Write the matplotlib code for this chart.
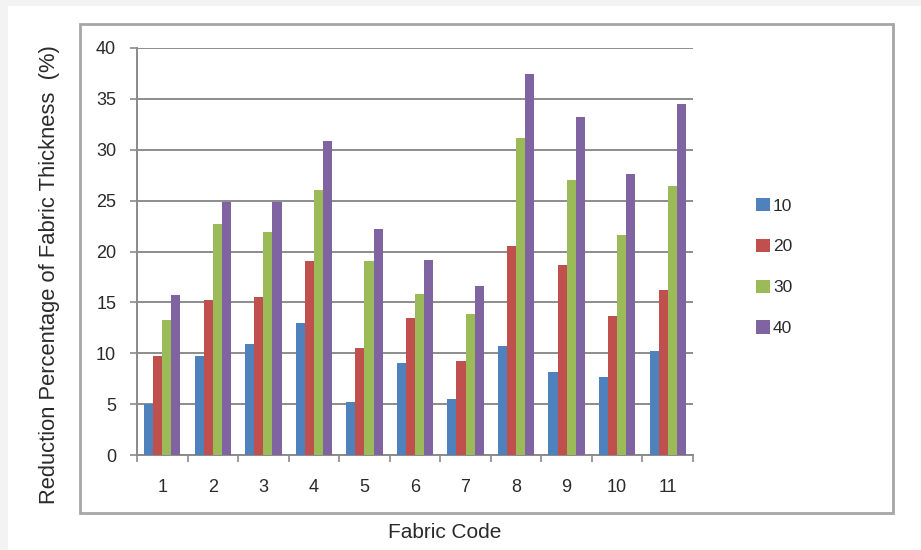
import matplotlib
matplotlib.use("Agg")
import matplotlib.pyplot as plt
from matplotlib.patches import Rectangle, Patch
import numpy as np

categories = ["1", "2", "3", "4", "5", "6", "7", "8", "9", "10", "11"]
series_names = ["10", "20", "30", "40"]
s10 = [5.0, 9.7, 10.9, 13.0, 5.2, 9.0, 5.5, 10.7, 8.2, 7.7, 10.2]
s20 = [9.7, 15.2, 15.5, 19.1, 10.5, 13.5, 9.2, 20.5, 18.7, 13.7, 16.2]
s30 = [13.3, 22.7, 21.9, 26.0, 19.1, 15.8, 13.9, 31.2, 27.0, 21.6, 26.4]
s40 = [15.7, 24.9, 24.9, 30.9, 22.2, 19.2, 16.6, 37.4, 33.2, 27.6, 34.5]
colors = ["#4F81BD", "#C0504D", "#9BBB59", "#8064A2"]

W, H = 921, 550
fig = plt.figure(figsize=(W / 100, H / 100), dpi=100)
fig.patch.set_facecolor("white")

# light gray frame top/left (screenshot edge)
fig.patches.append(Rectangle((0, 1 - 6 / H), 1, 6 / H, transform=fig.transFigure,
                             facecolor="#f3f3f3", edgecolor="none", zorder=0))
fig.patches.append(Rectangle((0, 0), 8 / W, 1, transform=fig.transFigure,
                             facecolor="#f3f3f3", edgecolor="none", zorder=0))
# chart area box
fig.patches.append(Rectangle((80 / W, 1 - 513 / H), (893 - 80) / W, (513 - 24) / H,
                             transform=fig.transFigure, facecolor="white",
                             edgecolor="#a6a6a6", linewidth=2, zorder=1))

ax = fig.add_axes([137 / W, 1 - 455 / H, (693 - 137) / W, (455 - 48) / H])
ax.set_facecolor("none")
ax.set_zorder(2)

x = np.arange(len(categories))
w = 0.18
data = [s10, s20, s30, s40]
for i, (vals, c) in enumerate(zip(data, colors)):
    ax.bar(x + (i - 1.5) * w, vals, width=w, color=c, edgecolor="none",
           label=series_names[i], zorder=3)

ax.set_xlim(-0.5, len(categories) - 0.5)
ax.set_ylim(0, 40)
ax.set_yticks(np.arange(0, 41, 5))
ax.yaxis.grid(True, color="#8c8c8c", linewidth=1.4, zorder=0)
ax.set_axisbelow(True)

for s in ["top", "right"]:
    ax.spines[s].set_visible(False)
for s in ["left", "bottom"]:
    ax.spines[s].set_color("#8a8a8a")
    ax.spines[s].set_linewidth(1.4)

ax.set_xticks(x)
ax.set_xticklabels(categories)
ax.set_xticks(np.arange(-0.5, len(categories), 1), minor=True)
ax.tick_params(axis="x", which="major", length=0, pad=17, labelsize=13,
               labelcolor="#2a2a2a")
ax.tick_params(axis="x", which="minor", length=5, width=1.2, color="#8a8a8a")
ax.tick_params(axis="y", length=5, width=1.2, color="#8a8a8a", pad=10,
               labelsize=13, labelcolor="#2a2a2a")
for lab in ax.get_xticklabels() + ax.get_yticklabels():
    lab.set_fontfamily(["Liberation Sans", "DejaVu Sans"])

fig.text(445 / W, 1 - 533 / H, "Fabric Code", ha="center", va="center",
         fontsize=15, color="#2a2a2a",
         family=["Liberation Sans", "DejaVu Sans"])
fig.text(50 / W, 1 - 275 / H, "Reduction Percentage of Fabric Thickness  (%)",
         rotation=90, ha="center", va="center", fontsize=15.8, color="#2a2a2a",
         family=["Liberation Sans", "DejaVu Sans"])

handles = [Patch(facecolor=c, edgecolor="none") for c in colors]
fig.legend(handles, series_names, loc="center left",
           bbox_to_anchor=(740 / W, 1 - 267 / H), frameon=False,
           handlelength=0.8, handleheight=0.8,
           handletextpad=0.2, labelspacing=1.45, labelcolor="#2a2a2a",
           prop={"family": ["Liberation Sans", "DejaVu Sans"], "size": 12.5})

fig.savefig("out.png", dpi=100)
